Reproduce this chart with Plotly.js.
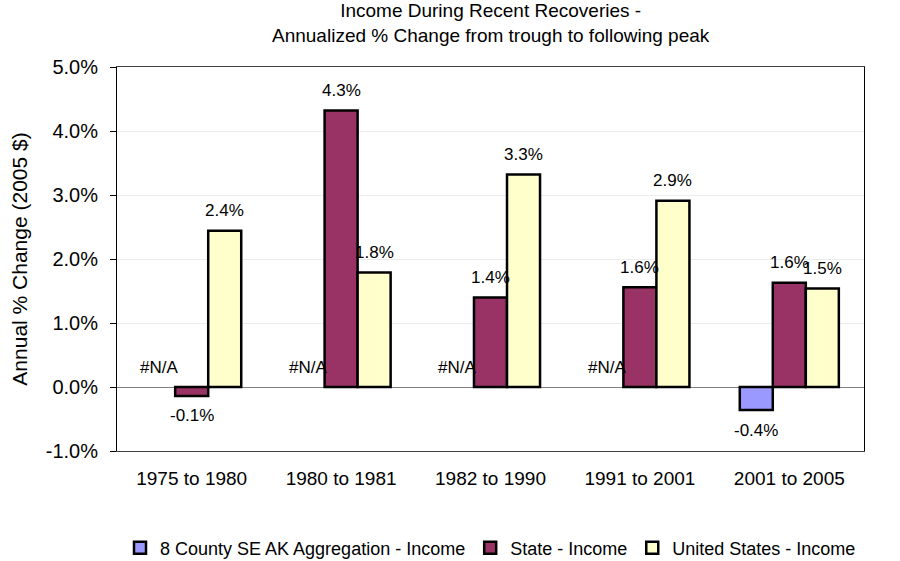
<!DOCTYPE html>
<html>
<head>
<meta charset="utf-8">
<script src="https://cdn.plot.ly/plotly-3.0.1.min.js"></script>
<style>html,body{margin:0;padding:0;background:#fff;}#chart{width:900px;height:561px;}</style>
</head>
<body>
<div id="chart"></div>
<script>
// ---- data ----
const categories = ["1975 to 1980", "1980 to 1981", "1982 to 1990", "1991 to 2001", "2001 to 2005"];
const seriesNames = ["8 County SE AK Aggregation - Income", "State - Income", "United States - Income"];
const seAK = [null, null, null, null, -0.36];
const state = [-0.14, 4.32, 1.40, 1.56, 1.63];
const us = [2.44, 1.79, 3.32, 2.91, 1.54];
const yTickVals = [-1, 0, 1, 2, 3, 4, 5];
const yTickText = ["-1.0%", "0.0%", "1.0%", "2.0%", "3.0%", "4.0%", "5.0%"];
const titleText = "Income During Recent Recoveries -<br>Annualized % Change from trough to following peak";

// ---- styles ----
const colors = ["#9999FF", "#993366", "#FFFFCC"];
const font = "Liberation Sans, Arial, sans-serif";
const margin = {l: 117, r: 36, t: 67, b: 110};
const bargap = 0.337;
const plotW = 900 - margin.l - margin.r;
const plotH = 561 - margin.t - margin.b;
const barPx = plotW / categories.length * (1 - bargap) / 3;

const allSeries = [seAK, state, us];
const traces = allSeries.map((vals, i) => ({
  type: "bar",
  name: seriesNames[i],
  x: categories,
  y: vals,
  marker: {color: colors[i], line: {color: "#000", width: 2.5}},
  hoverinfo: "x+y+name"
}));

const annotations = [];
allSeries.forEach((vals, i) => {
  vals.forEach((v, j) => {
    const txt = v === null ? "#N/A" : v.toFixed(1) + "%";
    const yv = v === null ? 0 : v;
    const dir = yv < 0 ? -1 : 1;
    annotations.push({
      x: categories[j], y: yv, xref: "x", yref: "y",
      text: txt, showarrow: false,
      xshift: (i - 1) * barPx,
      yshift: dir * 20,
      yanchor: "middle",
      font: {family: font, size: 17, color: "#000"}
    });
  });
});
// chart title as a paper annotation (two lines centred over the plot)
annotations.push({
  xref: "paper", yref: "paper", x: 0.5, y: 1 + 44 / plotH,
  xanchor: "center", yanchor: "middle", showarrow: false,
  text: titleText,
  font: {family: font, size: 19, color: "#000"}
});

const layout = {
  width: 900, height: 561,
  margin: margin,
  paper_bgcolor: "#fff", plot_bgcolor: "#fff",
  barmode: "group", bargap: bargap, bargroupgap: 0,
  xaxis: {
    type: "category", automargin: false,
    showgrid: false, zeroline: false,
    showline: true, linecolor: "#404040", linewidth: 1, mirror: true,
    ticks: "", ticklabelstandoff: 10,
    tickfont: {family: font, size: 19, color: "#000"}
  },
  yaxis: {
    range: [-1, 5], automargin: false,
    tickvals: yTickVals, ticktext: yTickText,
    showgrid: true, gridcolor: "#ebebeb", gridwidth: 1,
    zeroline: true, zerolinecolor: "#808080", zerolinewidth: 1,
    showline: true, linecolor: "#000", linewidth: 1, mirror: true,
    ticks: "outside", ticklen: 6, tickcolor: "#000", ticklabelstandoff: 8,
    tickfont: {family: font, size: 20, color: "#000"},
    title: {text: "Annual % Change (2005 $)", font: {family: font, size: 21, color: "#000"}, standoff: 12}
  },
  legend: {
    orientation: "h", x: 0.5, xref: "paper", xanchor: "center",
    y: 13 / 561, yref: "container", yanchor: "middle",
    font: {family: font, size: 18, color: "#000"},
    itemwidth: 30, tracegroupgap: 0, traceorder: "normal"
  },
  annotations: annotations,
  showlegend: true
};

Plotly.newPlot("chart", traces, layout, {displayModeBar: false, staticPlot: true});
</script>
</body>
</html>
